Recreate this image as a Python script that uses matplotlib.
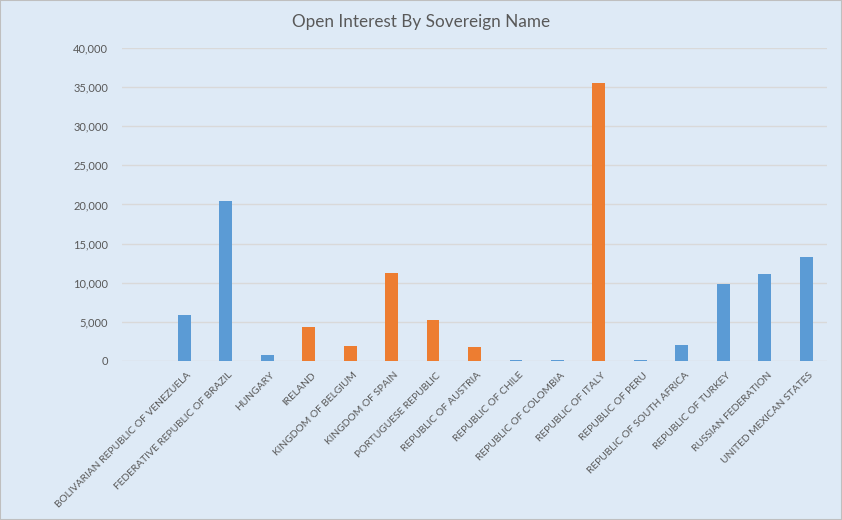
import numpy as np
import matplotlib.pyplot as plt

# data (first category is blank in the source sheet)
sovereigns = ["", "BOLIVARIAN REPUBLIC OF VENEZUELA", "FEDERATIVE REPUBLIC OF BRAZIL",
              "HUNGARY", "IRELAND", "KINGDOM OF BELGIUM", "KINGDOM OF SPAIN",
              "PORTUGUESE REPUBLIC", "REPUBLIC OF AUSTRIA", "REPUBLIC OF CHILE",
              "REPUBLIC OF COLOMBIA", "REPUBLIC OF ITALY", "REPUBLIC OF PERU",
              "REPUBLIC OF SOUTH AFRICA", "REPUBLIC OF TURKEY", "RUSSIAN FEDERATION",
              "UNITED MEXICAN STATES"]
other_oi = [np.nan, 5900, 20500, 800, np.nan, np.nan, np.nan, np.nan, np.nan,
            150, 150, np.nan, 150, 2050, 9850, 11100, 13300]
euro_oi = [np.nan, np.nan, np.nan, np.nan, 4400, 1950, 11250, 5250, 1800,
           np.nan, np.nan, 35500, np.nan, np.nan, np.nan, np.nan, np.nan]

bg = "#DEEAF6"
txt = "#595959"
plt.rcParams["font.family"] = ["Lato", "DejaVu Sans"]

fig = plt.figure(figsize=(8.42, 5.2), dpi=100, facecolor=bg)
fig.patches.append(plt.Rectangle((0, 0), 1, 1, transform=fig.transFigure,
                                 fill=False, edgecolor="#BFBFBF", lw=1.5))
ax = fig.add_axes([0.1449, 0.3058, 0.8373, 0.6019])
ax.set_facecolor(bg)

x = np.arange(len(sovereigns))
ax.bar(x, other_oi, width=0.31, color="#5B9BD5", zorder=3)
ax.bar(x, euro_oi, width=0.31, color="#ED7D31", zorder=3)

ax.set_xlim(-0.5, len(sovereigns) - 0.5)
ax.set_ylim(0, 40000)
ax.set_yticks(np.arange(0, 40001, 5000))
ax.set_yticklabels([f"{v:,}" for v in range(0, 40001, 5000)])
ax.grid(axis="y", color="#D9D9D9", lw=1, zorder=0)
for s in ax.spines.values():
    s.set_visible(False)
ax.tick_params(length=0, colors=txt, labelsize=8)
ax.tick_params(axis="y", pad=10)

ax.set_xticks(x + 0.06)
ax.set_xticklabels(sovereigns, rotation=45, ha="right", rotation_mode="anchor",
                   fontsize=7.4, color=txt)
ax.tick_params(axis="x", pad=7)

fig.text(0.5, 0.958, "Open Interest By Sovereign Name", ha="center", va="center",
         fontsize=12.3, color=txt)

plt.savefig("out.png", dpi=100, facecolor=bg)
